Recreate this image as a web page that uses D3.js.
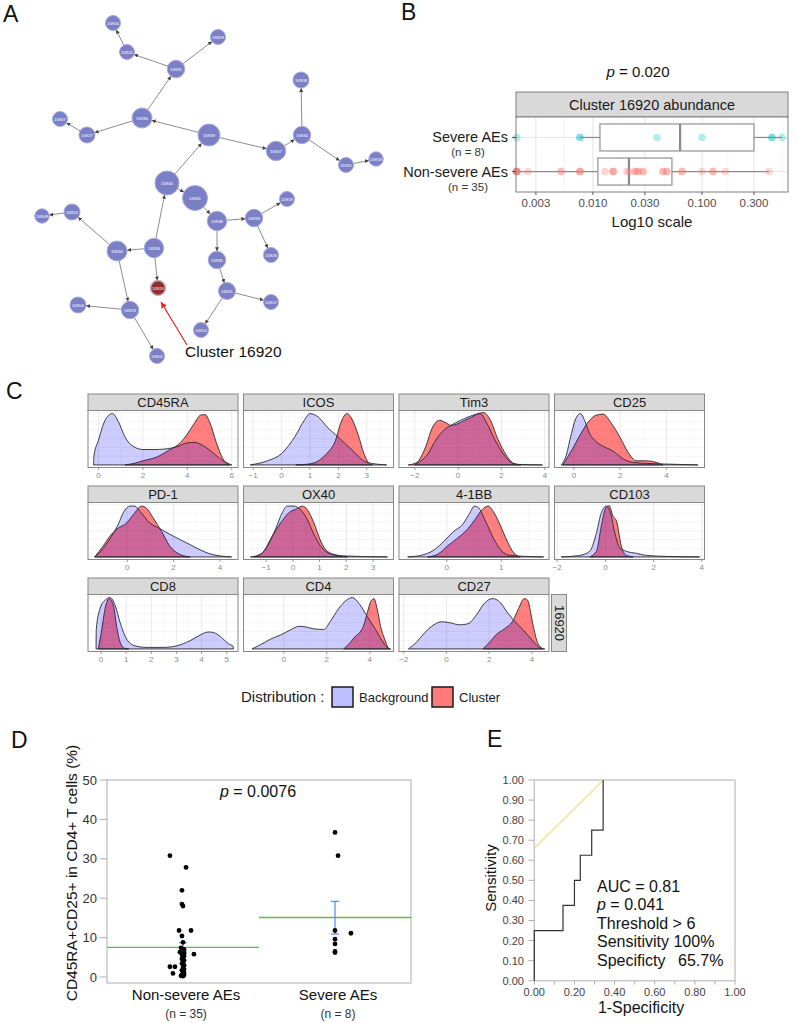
<!DOCTYPE html>
<html><head><meta charset="utf-8">
<script src="https://d3js.org/d3.v7.min.js"></script>
<style>
html,body{margin:0;padding:0;background:#fff;}
svg{display:block;}
text{font-family:"Liberation Sans",Arial,Helvetica,sans-serif;}
</style></head>
<body>
<svg id="fig" width="798" height="1023"></svg>
<script>
// ================= DATA =================
// ---- Panel A: cluster network (layout coordinates) ----
const nodeIds = ["16906","16922","16929","16931","16907","16927","16936","16939","16937","16930","16908","16911","16918","16940","16941","16919","16938","16933","16909","16924","16932","16934","16926","16935","16920","16921","16917","16904","16923","16914","16902"];
const nodeX = [113,127,218,176,60,87,142,209,276,302,301,346,376,167,195,287,217,254,42,72,117,154,271,217,158,227,271,78,130,201,157];
const nodeY = [23,52,37,69,119,135,118,135,151,135,80,165,159,183,198,199,221,218,216,212,251,248,255,260,288,291,302,305,310,330,356];
const nodeSize = [7.5,7.5,7.5,8.7,7.5,8,10,11,9.7,8.7,8,7.5,7.2,12,12.5,7.5,9.7,8.7,7.2,8,10,9.7,7.5,8.7,7.5,8.5,7.5,8,8.7,7.5,7.5];
const edgeList = [["16922","16906"],["16931","16922"],["16931","16929"],["16936","16931"],["16927","16907"],["16936","16927"],["16939","16936"],["16939","16937"],["16937","16930"],["16930","16908"],["16930","16911"],["16911","16918"],["16940","16939"],["16940","16941"],["16941","16938"],["16938","16933"],["16933","16919"],["16933","16926"],["16938","16935"],["16935","16921"],["16921","16917"],["16921","16914"],["16934","16940"],["16934","16932"],["16934","16920"],["16932","16924"],["16924","16909"],["16932","16923"],["16923","16904"],["16923","16902"]];
const highlightNode = "16920";

// ---- Panel B: abundance ----
const abGroups = ["Severe AEs","Non-severe AEs"];
const abCounts = ["(n = 8)","(n = 35)"];
const abSevere = [0.002,0.0076,0.0076,0.0387,0.1,0.438,0.438,0.542];
const abNonSevere = [0.002,0.002,0.002,0.002,0.002,0.002,0.00254,0.0051,0.0051,0.0076,0.0076,0.0076,0.0129,0.0153,0.0153,0.0153,0.0205,0.0214,0.0243,0.0243,0.0259,0.0259,0.0288,0.0288,0.0439,0.0439,0.0477,0.0477,0.0655,0.0655,0.1,0.126,0.126,0.163,0.412];
const abBoxes = [[0.0116,0.063,0.30],[0.0111,0.0214,0.053]];
const abWhiskers = [[0.0076,0.542],[0.002,0.412]];
const abTicks = [0.003,0.01,0.03,0.1,0.3];
const abTickLabels = ["0.003","0.010","0.030","0.100","0.300"];
const abMinor = [0.00548,0.0173,0.0548,0.173,0.548];

// ---- Panel C: marker densities ----
const markers = ["CD45RA","ICOS","Tim3","CD25","PD-1","OX40","4-1BB","CD103","CD8","CD4","CD27"];
const markerDomains = [[-0.47,6.28],[-1.34,3.94],[-2.73,4.2],[-0.84,5.65],[-1.69,4.78],[-1.85,3.77],[-0.88,1.88],[-2.11,4.11],[-0.52,5.45],[-1.87,5.1],[-2.22,4.8]];
const markerTicks = [[0,2,4,6],[-1,0,1,2,3],[-2,0,2,4],[0,2,4],[0,2,4],[-1,0,1,2,3],[0,1],[-2,0,2,4],[0,1,2,3,4,5],[0,2,4],[-2,0,2,4]];
const densBackground = [
 [[-0.22,0],[-0.2,0.18],[0,0.48],[0.3,0.87],[0.63,1.0],[0.9,0.84],[1.2,0.54],[1.5,0.38],[2.0,0.30],[2.5,0.30],[3.0,0.31],[3.5,0.35],[4.0,0.43],[4.3,0.44],[4.7,0.38],[5.2,0.22],[5.6,0.08],[6.0,0]],
 [[-1.1,0],[-0.5,0.08],[0,0.22],[0.5,0.58],[0.8,0.87],[1.0,1.0],[1.3,0.93],[1.6,0.74],[2.0,0.54],[2.5,0.28],[3.0,0.05],[3.7,0]],
 [[-2.0,0],[-1.68,0.09],[-1.38,0.22],[-1.08,0.45],[-0.63,0.69],[-0.33,0.77],[0.12,0.87],[0.57,0.95],[1.02,1.0],[1.32,0.82],[1.7,0.49],[2.08,0.22],[2.45,0.05],[2.83,0.01],[3.9,0]],
 [[-0.55,0],[-0.33,0.19],[-0.12,0.59],[0.1,0.92],[0.29,1.0],[0.46,0.87],[0.68,0.61],[0.97,0.45],[1.33,0.35],[1.76,0.25],[2.12,0.12],[2.55,0.05],[3.13,0.03],[3.7,0.02],[5.37,0]],
 [[-1.4,0],[-1.04,0.16],[-0.68,0.4],[-0.39,0.63],[-0.17,0.86],[0.12,0.99],[0.33,0.99],[0.55,0.89],[0.98,0.66],[1.41,0.55],[1.84,0.44],[2.27,0.34],[2.71,0.24],[3.14,0.14],[3.57,0.06],[4.0,0.02],[4.5,0]],
 [[-1.59,0],[-1.21,0.05],[-0.96,0.21],[-0.65,0.54],[-0.4,0.86],[-0.21,0.99],[0.04,0.99],[0.29,0.92],[0.54,0.73],[0.79,0.44],[1.04,0.21],[1.41,0.06],[1.91,0.02],[3.54,0]],
 [[-0.72,0],[-0.48,0.03],[-0.23,0.14],[-0.05,0.31],[0.13,0.5],[0.29,0.63],[0.41,0.83],[0.51,0.99],[0.59,0.95],[0.71,0.7],[0.87,0.34],[0.99,0.14],[1.17,0.03],[1.78,0]],
 [[-1.83,0],[-1.07,0.03],[-0.65,0.11],[-0.37,0.47],[-0.17,0.86],[0.04,0.99],[0.21,0.86],[0.39,0.47],[0.59,0.18],[0.87,0.11],[1.29,0.07],[1.7,0.03],[2.53,0.01],[3.91,0]],
 [[-0.2,0],[-0.19,0.38],[-0.04,0.79],[0.16,0.95],[0.36,1.0],[0.56,0.85],[0.76,0.51],[1.02,0.19],[1.35,0.06],[1.82,0.03],[2.48,0.03],[3.01,0.06],[3.54,0.16],[3.94,0.27],[4.27,0.33],[4.47,0.32],[4.8,0.22],[5.07,0.1],[5.26,0.05],[5.27,0]],
 [[-1.47,0],[-1.09,0.08],[-0.62,0.19],[-0.16,0.27],[0.31,0.37],[0.7,0.44],[1.01,0.43],[1.4,0.39],[1.86,0.38],[2.17,0.54],[2.56,0.79],[2.95,0.96],[3.18,1.0],[3.49,0.89],[3.88,0.63],[4.26,0.38],[4.57,0.16],[4.88,0.01],[4.95,0]],
 [[-1.78,0],[-1.4,0.13],[-1.01,0.32],[-0.62,0.46],[-0.23,0.53],[0.16,0.51],[0.62,0.47],[1.01,0.49],[1.4,0.66],[1.78,0.89],[2.17,0.98],[2.48,0.92],[2.87,0.7],[3.26,0.51],[3.64,0.35],[4.03,0.16],[4.42,0.01],[4.5,0]]
];
const densCluster = [
 [[1.2,0],[1.6,0.03],[2.0,0.08],[2.6,0.15],[3.15,0.28],[3.7,0.44],[4.0,0.6],[4.3,0.8],[4.6,0.97],[4.8,0.98],[5.0,0.84],[5.3,0.44],[5.6,0.12],[5.9,0]],
 [[0.5,0],[1.0,0.02],[1.55,0.2],[1.9,0.48],[2.1,0.84],[2.3,1.0],[2.5,0.87],[2.7,0.58],[2.9,0.22],[3.1,0.02],[3.2,0]],
 [[-2.3,0],[-1.9,0.05],[-1.53,0.32],[-1.16,0.75],[-0.86,0.87],[-0.56,0.82],[-0.33,0.77],[0.42,0.89],[1.17,1.02],[1.47,0.89],[1.85,0.49],[2.23,0.19],[2.6,0.02],[2.9,0]],
 [[-0.48,0],[-0.05,0.32],[0.3,0.61],[0.68,0.87],[0.97,0.97],[1.26,0.99],[1.62,0.81],[1.98,0.55],[2.34,0.25],[2.7,0.08],[3.13,0.08],[3.56,0.05],[3.85,0]],
 [[-1.4,0],[-1.04,0.21],[-0.68,0.44],[-0.39,0.56],[-0.03,0.66],[0.26,0.82],[0.62,0.99],[0.83,0.95],[1.12,0.76],[1.48,0.5],[1.84,0.21],[2.27,0.05],[2.71,0]],
 [[-1.46,0],[-1.09,0.11],[-0.78,0.4],[-0.46,0.66],[-0.15,0.86],[0.16,0.94],[0.35,0.99],[0.54,0.92],[0.79,0.66],[1.04,0.31],[1.29,0.11],[1.66,0.03],[2.04,0]],
 [[-0.35,0],[-0.17,0.05],[0.01,0.21],[0.2,0.37],[0.38,0.54],[0.52,0.73],[0.65,0.92],[0.76,0.99],[0.87,0.86],[0.99,0.6],[1.11,0.31],[1.23,0.08],[1.35,0]],
 [[-0.65,0],[-0.37,0.11],[-0.17,0.6],[0.01,0.95],[0.15,1.0],[0.32,0.79],[0.46,0.7],[0.66,0.21],[0.87,0.03],[1.15,0]],
 [[-0.11,0],[0.03,0.38],[0.16,0.79],[0.33,0.98],[0.49,0.85],[0.62,0.44],[0.76,0.13],[0.95,0.01],[1.1,0]],
 [[2.79,0],[3.1,0.13],[3.34,0.25],[3.49,0.3],[3.7,0.44],[3.88,0.7],[4.04,0.92],[4.19,0.98],[4.35,0.76],[4.5,0.44],[4.69,0.19],[4.88,0.01],[4.95,0]],
 [[1.71,0],[2.02,0.13],[2.33,0.28],[2.71,0.39],[3.1,0.54],[3.38,0.79],[3.64,0.98],[3.8,0.95],[4.03,0.51],[4.26,0.13],[4.5,0.01],[4.6,0]]
];
const facetRowLabel = "16920";
const legendKeys = ["Background","Cluster"];

// ---- Panel D: CD45RA+CD25+ % ----
const dGroups = ["Non-severe AEs","Severe AEs"];
const dCounts = ["(n = 35)","(n = 8)"];
const dNonSevere = [30.8,27.8,22.0,18.5,18.0,11.8,11.8,10.4,8.8,7.4,7.0,6.3,6.0,5.8,5.6,5.3,5.0,4.6,4.2,3.8,3.4,3.0,2.6,2.6,2.3,2.0,1.7,1.4,1.1,0.9,0.8,0.5,0.3,0.2,0.6];
const dNonSevereJit = [-0.086,0.02,-0.007,-0.007,0,-0.026,0.053,-0.007,0,-0.013,0.007,-0.02,0.007,0.072,-0.007,0.007,0,-0.007,0.007,0,-0.007,0.007,-0.086,-0.053,0,0.007,-0.007,0,0.007,-0.066,0,0.007,-0.013,0,-0.007];
const dSevere = [36.7,30.8,11.8,11.1,9.6,8.4,6.5,6.2];
const dSevereJit = [0,0.02,0,0.105,0,0,0,0];
const dMeans = [7.5,15.1];
const dErr = [[6.4,8.7],[10.9,19.2]];
const dTicks = [0,10,20,30,40,50];

// ---- Panel E: ROC ----
const rocFpr = [0,0,0.143,0.143,0.2,0.2,0.229,0.229,0.286,0.286,0.343,0.343];
const rocTpr = [0,0.25,0.25,0.375,0.375,0.5,0.5,0.625,0.625,0.75,0.75,1.0];
const refFpr = [0,0.345];
const refTpr = [0.66,1.0];
const eTicks = [0,0.1,0.2,0.3,0.4,0.5,0.6,0.7,0.8,0.9,1.0];
const eLabelTicks = [0,0.2,0.4,0.6,0.8,1.0];

// ================= DRAWING =================
const svg = d3.select("#fig");
svg.append("rect").attr("width",798).attr("height",1023).attr("fill","#fff");

// panel letters
[["A",3,22],["B",401,20],["C",6,399],["D",11,748],["E",487,747]].forEach(([t,x,y])=>{
  svg.append("text").attr("x",x).attr("y",y).attr("font-size",23).attr("fill","#111").text(t);
});

// ---------- Panel A ----------
(function(){
  const g = svg.append("g");
  const sx = d3.scaleLinear().domain(d3.extent(nodeX)).range(d3.extent(nodeX));
  const sy = d3.scaleLinear().domain(d3.extent(nodeY)).range(d3.extent(nodeY));
  const sr = d3.scaleLinear().domain([0,1]).range([0,1]);
  const nodes = nodeIds.map((id,i)=>({id,x:sx(nodeX[i]),y:sy(nodeY[i]),r:sr(nodeSize[i])}));
  const byId = new Map(nodes.map(n=>[n.id,n]));
  const defs = svg.append("defs");
  defs.append("marker").attr("id","arrA").attr("viewBox","0 -3 6 6").attr("refX",6).attr("refY",0)
    .attr("markerWidth",4).attr("markerHeight",4).attr("orient","auto")
    .append("path").attr("d","M0,-3L6,0L0,3Z").attr("fill","#444");
  defs.append("marker").attr("id","arrRed").attr("viewBox","0 -3 6 6").attr("refX",6).attr("refY",0)
    .attr("markerWidth",6).attr("markerHeight",6).attr("orient","auto").attr("markerUnits","userSpaceOnUse")
    .append("path").attr("d","M0,-3L6,0L0,3Z").attr("fill","#e52222");
  edgeList.forEach(([s,t])=>{
    const a = byId.get(s), b = byId.get(t);
    const dx=b.x-a.x, dy=b.y-a.y, L=Math.hypot(dx,dy);
    g.append("line").attr("x1",a.x+dx/L*a.r).attr("y1",a.y+dy/L*a.r)
      .attr("x2",b.x-dx/L*b.r).attr("y2",b.y-dy/L*b.r)
      .attr("stroke","#8c8c8c").attr("stroke-width",1).attr("marker-end","url(#arrA)");
  });
  nodes.forEach(n=>{
    const hl = n.id===highlightNode;
    g.append("circle").attr("cx",n.x).attr("cy",n.y).attr("r",n.r)
      .attr("fill",hl?"#9a2a2c":"#7b7fc6").attr("stroke",hl?"#b9b9b9":"#a7a9dc").attr("stroke-width",hl?1.6:1);
    g.append("text").attr("x",n.x).attr("y",n.y).attr("dy","0.35em").attr("text-anchor","middle")
      .attr("font-size",4.3).attr("fill","#fff").text(n.id);
  });
  const hn = byId.get(highlightNode);
  g.append("line").attr("x1",hn.x+29).attr("y1",hn.y+57).attr("x2",hn.x+3).attr("y2",hn.y+14)
    .attr("stroke","#e52222").attr("stroke-width",1.2).attr("marker-end","url(#arrRed)");
  g.append("text").attr("x",hn.x+27).attr("y",hn.y+69).attr("font-size",15.5).attr("fill","#111").text("Cluster "+highlightNode);
})();

// ---------- Panel B ----------
(function(){
  const g = svg.append("g");
  const L=516,R=788,T=117,B=192;
  const x = d3.scaleLog().domain([0.00197,0.615]).range([L,R]);
  const y = d3.scalePoint().domain(abGroups).range([T,B]).padding(0.6);
  g.append("text").attr("x",638).attr("y",77).attr("text-anchor","middle").attr("font-size",15).attr("fill","#111")
    .call(t=>{t.append("tspan").attr("font-style","italic").text("p");t.append("tspan").text(" = 0.020");});
  g.append("rect").attr("x",L).attr("y",92).attr("width",R-L).attr("height",T-92).attr("fill","#d9d9d9").attr("stroke","#7f7f7f");
  g.append("text").attr("x",(L+R)/2).attr("y",109.5).attr("text-anchor","middle").attr("font-size",14.5).attr("fill","#1a1a1a").text("Cluster 16920 abundance");
  g.append("rect").attr("x",L).attr("y",T).attr("width",R-L).attr("height",B-T).attr("fill","#fff");
  abMinor.forEach(v=>{ if(x(v)<R) g.append("line").attr("x1",x(v)).attr("x2",x(v)).attr("y1",T).attr("y2",B).attr("stroke","#f2f2f2").attr("stroke-width",0.8);});
  abTicks.forEach(v=>g.append("line").attr("x1",x(v)).attr("x2",x(v)).attr("y1",T).attr("y2",B).attr("stroke","#e6e6e6").attr("stroke-width",1.1));
  abGroups.forEach(gr=>g.append("line").attr("x1",L).attr("x2",R).attr("y1",y(gr)).attr("y2",y(gr)).attr("stroke","#e6e6e6").attr("stroke-width",1.1));
  const cols = ["#00BFC4","#F8766D"];
  const vals = [abSevere,abNonSevere];
  abGroups.forEach((gr,i)=>{
    const cy=y(gr), h=13.5;
    const [w0,w1]=abWhiskers[i], [q1,md,q3]=abBoxes[i];
    g.append("line").attr("x1",x(w0)).attr("x2",x(q1)).attr("y1",cy).attr("y2",cy).attr("stroke","#8a8a8a").attr("stroke-width",1.2);
    g.append("line").attr("x1",x(q3)).attr("x2",x(w1)).attr("y1",cy).attr("y2",cy).attr("stroke","#8a8a8a").attr("stroke-width",1.2);
    g.append("rect").attr("x",x(q1)).attr("y",cy-h).attr("width",x(q3)-x(q1)).attr("height",2*h).attr("fill","#fff").attr("stroke","#9a9a9a").attr("stroke-width",1.3);
    g.append("line").attr("x1",x(md)).attr("x2",x(md)).attr("y1",cy-h).attr("y2",cy+h).attr("stroke","#8a8a8a").attr("stroke-width",2.2);
    vals[i].forEach(v=>g.append("circle").attr("cx",x(v)).attr("cy",cy).attr("r",3.8).attr("fill",cols[i]).attr("fill-opacity",0.3));
  });
  g.append("rect").attr("x",L).attr("y",T).attr("width",R-L).attr("height",B-T).attr("fill","none").attr("stroke","#7f7f7f");
  abGroups.forEach((gr,i)=>{
    g.append("line").attr("x1",L-4).attr("x2",L).attr("y1",y(gr)).attr("y2",y(gr)).attr("stroke","#555");
    g.append("text").attr("x",508).attr("y",y(gr)+5).attr("text-anchor","end").attr("font-size",14.5).attr("fill","#1a1a1a").text(gr);
    g.append("text").attr("x",468).attr("y",y(gr)+19).attr("text-anchor","middle").attr("font-size",11.5).attr("fill","#333").text(abCounts[i]);
  });
  abTicks.forEach((v,i)=>{
    g.append("line").attr("x1",x(v)).attr("x2",x(v)).attr("y1",B).attr("y2",B+3).attr("stroke","#555");
    g.append("text").attr("x",x(v)).attr("y",207).attr("text-anchor","middle").attr("font-size",11.5).attr("fill","#4d4d4d").text(abTickLabels[i]);
  });
  g.append("text").attr("x",652).attr("y",227).attr("text-anchor","middle").attr("font-size",15).attr("fill","#1a1a1a").text("Log10 scale");
})();

// ---------- Panel C ----------
(function(){
  const g = svg.append("g");
  const X0=88, PX=155.5, W=150, Y0=394, PY=92, SH=16.5, PH=57;
  markers.forEach((m,i)=>{
    const col=i%4, row=Math.floor(i/4);
    const x0=X0+col*PX, y0=Y0+row*PY, pt=y0+SH, pb=pt+PH;
    const x = d3.scaleLinear().domain(markerDomains[i]).range([x0,x0+W]);
    const y = d3.scaleLinear().domain([-0.05,1.06]).range([pb,pt]);
    g.append("rect").attr("x",x0).attr("y",y0).attr("width",W).attr("height",SH).attr("fill","#d9d9d9").attr("stroke","#888");
    g.append("text").attr("x",x0+W/2).attr("y",y0+12.6).attr("text-anchor","middle").attr("font-size",13).attr("fill","#1a1a1a").text(m);
    g.append("rect").attr("x",x0).attr("y",pt).attr("width",W).attr("height",PH).attr("fill","#fff");
    const tk = markerTicks[i], step = tk.length>1? tk[1]-tk[0] : 1;
    const minors = [];
    for(let k=-1;k<tk.length;k++){ const v=(k<0?tk[0]:tk[k])+(k<0?-step/2:step/2); minors.push(v); }
    minors.forEach(v=>{const px=x(v); if(px>x0&&px<x0+W) g.append("line").attr("x1",px).attr("x2",px).attr("y1",pt).attr("y2",pb).attr("stroke","#f3f3f3").attr("stroke-width",0.6);});
    d3.range(0,1.06,0.17).forEach(v=>g.append("line").attr("x1",x0).attr("x2",x0+W).attr("y1",y(v)).attr("y2",y(v)).attr("stroke","#efefef").attr("stroke-width",0.7));
    tk.forEach(v=>g.append("line").attr("x1",x(v)).attr("x2",x(v)).attr("y1",pt).attr("y2",pb).attr("stroke","#e8e8e8").attr("stroke-width",0.9));
    const area = d3.area().x(d=>x(d[0])).y0(y(0)).y1(d=>y(d[1])).curve(d3.curveMonotoneX);
    g.append("path").attr("d",area(densCluster[i])).attr("fill","#ff0000").attr("fill-opacity",0.5).attr("stroke","#2b2b2b").attr("stroke-width",0.9);
    g.append("path").attr("d",area(densBackground[i])).attr("fill","#0000ff").attr("fill-opacity",0.2).attr("stroke","#2b2b2b").attr("stroke-width",0.9);
    g.append("rect").attr("x",x0).attr("y",pt).attr("width",W).attr("height",PH).attr("fill","none").attr("stroke","#888");
    tk.forEach(v=>{
      g.append("line").attr("x1",x(v)).attr("x2",x(v)).attr("y1",pb).attr("y2",pb+2.5).attr("stroke","#999");
      g.append("text").attr("x",x(v)).attr("y",pb+10).attr("text-anchor","middle").attr("font-size",8).attr("fill","#8a8a8a").text(d3.format("d")(v));
    });
    if(i===markers.length-1){
      const sx=x0+W+2.5, sw=15;
      g.append("rect").attr("x",sx).attr("y",pt).attr("width",sw).attr("height",PH).attr("fill","#d9d9d9").attr("stroke","#888");
      g.append("text").attr("transform",`translate(${sx+sw/2-4.5},${pt+PH/2}) rotate(90)`).attr("text-anchor","middle").attr("font-size",13).attr("fill","#1a1a1a").text(facetRowLabel);
    }
  });
  // legend
  const ly=687;
  g.append("text").attr("x",241).attr("y",ly+15).attr("font-size",15).attr("fill","#1a1a1a").text("Distribution :");
  const keyFill=["#bfbfff","#ff7a7a"], keyX=[332,432];
  legendKeys.forEach((k,i)=>{
    g.append("rect").attr("x",keyX[i]).attr("y",ly).attr("width",21).attr("height",20).attr("fill",keyFill[i]).attr("stroke","#1a1a1a").attr("stroke-width",1.5);
    g.append("text").attr("x",keyX[i]+27).attr("y",ly+14.5).attr("font-size",13).attr("fill","#1a1a1a").text(k);
  });
})();

// ---------- Panel D ----------
(function(){
  const g = svg.append("g");
  const L=107,R=411,T=780,B=983;
  const y = d3.scaleLinear().domain([0,50]).range([977,780]);
  const xb = d3.scaleBand().domain(dGroups).range([L,R]);
  const cx = gname => xb(gname)+xb.bandwidth()/2;
  g.append("rect").attr("x",L).attr("y",T).attr("width",R-L).attr("height",B-T).attr("fill","#fff").attr("stroke","#c8c8c8").attr("stroke-width",1.5);
  dTicks.forEach(v=>{
    g.append("line").attr("x1",L-7).attr("x2",L).attr("y1",y(v)).attr("y2",y(v)).attr("stroke","#b0b0b0");
    g.append("text").attr("x",97).attr("y",y(v)).attr("dy","0.36em").attr("text-anchor","end").attr("font-size",13).attr("fill","#333").text(v);
  });
  g.append("text").attr("transform","translate(77,873) rotate(-90)").attr("text-anchor","middle").attr("font-size",15.5).attr("fill","#111").text("CD45RA+CD25+ in CD4+ T cells (%)");
  g.append("text").attr("x",258).attr("y",797).attr("text-anchor","middle").attr("font-size",16).attr("fill","#111")
    .call(t=>{t.append("tspan").attr("font-style","italic").text("p");t.append("tspan").text(" = 0.0076");});
  // means
  dGroups.forEach((gr,i)=>{
    g.append("line").attr("x1",xb(gr)).attr("x2",xb(gr)+xb.bandwidth()).attr("y1",y(dMeans[i])).attr("y2",y(dMeans[i])).attr("stroke","#5cb85c").attr("stroke-width",1.3);
  });
  // error bars
  dGroups.forEach((gr,i)=>{
    const c=cx(gr), [lo,hi]=dErr[i];
    g.append("line").attr("x1",c).attr("x2",c).attr("y1",y(lo)).attr("y2",y(hi)).attr("stroke","#4a8ef0").attr("stroke-width",1.2);
    [lo,hi].forEach(v=>g.append("line").attr("x1",c-4).attr("x2",c+4).attr("y1",y(v)).attr("y2",y(v)).attr("stroke","#4a8ef0").attr("stroke-width",1.2));
  });
  const sets=[[dNonSevere,dNonSevereJit],[dSevere,dSevereJit]];
  dGroups.forEach((gr,i)=>{
    const [vals,jit]=sets[i];
    vals.forEach((v,k)=>g.append("circle").attr("cx",cx(gr)+jit[k]*xb.bandwidth()).attr("cy",y(v)).attr("r",2.4).attr("fill","#000"));
    g.append("text").attr("x",cx(gr)+3).attr("y",1000).attr("text-anchor","middle").attr("font-size",15).attr("fill","#111").text(gr);
    g.append("text").attr("x",cx(gr)+3).attr("y",1018).attr("text-anchor","middle").attr("font-size",12).attr("fill","#333").text(dCounts[i]);
  });
})();

// ---------- Panel E ----------
(function(){
  const g = svg.append("g");
  const x = d3.scaleLinear().domain([0,1]).range([534.3,735]);
  const y = d3.scaleLinear().domain([0,1]).range([980.7,780]);
  g.append("rect").attr("x",x(0)).attr("y",y(1)).attr("width",x(1)-x(0)).attr("height",y(0)-y(1)).attr("fill","#fff").attr("stroke","#c8c8c8").attr("stroke-width",1.5);
  eTicks.forEach(v=>{
    g.append("line").attr("x1",x(0)-6).attr("x2",x(0)).attr("y1",y(v)).attr("y2",y(v)).attr("stroke","#b0b0b0");
    g.append("text").attr("x",524).attr("y",y(v)).attr("dy","0.36em").attr("text-anchor","end").attr("font-size",11).attr("fill","#444").text(d3.format(".2f")(v));
    g.append("line").attr("x1",x(v)).attr("x2",x(v)).attr("y1",y(0)).attr("y2",y(0)+4).attr("stroke","#b0b0b0");
  });
  eLabelTicks.forEach(v=>g.append("text").attr("x",x(v)).attr("y",996).attr("text-anchor","middle").attr("font-size",11).attr("fill","#444").text(d3.format(".2f")(v)));
  g.append("text").attr("x",641).attr("y",1013).attr("text-anchor","middle").attr("font-size",16).attr("fill","#111").text("1-Specificity");
  g.append("text").attr("transform","translate(496,878) rotate(-90)").attr("text-anchor","middle").attr("font-size",15).attr("fill","#111").text("Sensitivity");
  const line = d3.line().x(d=>x(d[0])).y(d=>y(d[1]));
  g.append("path").attr("d",line(refFpr.map((f,i)=>[f,refTpr[i]]))).attr("fill","none").attr("stroke","#efe38a").attr("stroke-width",1.2);
  g.append("path").attr("d",line(rocFpr.map((f,i)=>[f,rocTpr[i]]))).attr("fill","none").attr("stroke","#333").attr("stroke-width",1.2);
  const tx=597, ty0=891.5, dy=18.5;
  const st = g.append("g").attr("font-size",16).attr("fill","#111");
  st.append("text").attr("x",tx).attr("y",ty0).text("AUC = 0.81");
  st.append("text").attr("x",tx).attr("y",ty0+dy).call(t=>{t.append("tspan").attr("font-style","italic").text("p");t.append("tspan").text(" = 0.041");});
  st.append("text").attr("x",tx).attr("y",ty0+2*dy).text("Threshold > 6");
  st.append("text").attr("x",tx).attr("y",ty0+3*dy).text("Sensitivity 100%");
  st.append("text").attr("x",tx).attr("y",ty0+4*dy).call(t=>{t.append("tspan").text("Specificty");t.append("tspan").attr("x",678).text("65.7%");});
})();
</script>
</body></html>
